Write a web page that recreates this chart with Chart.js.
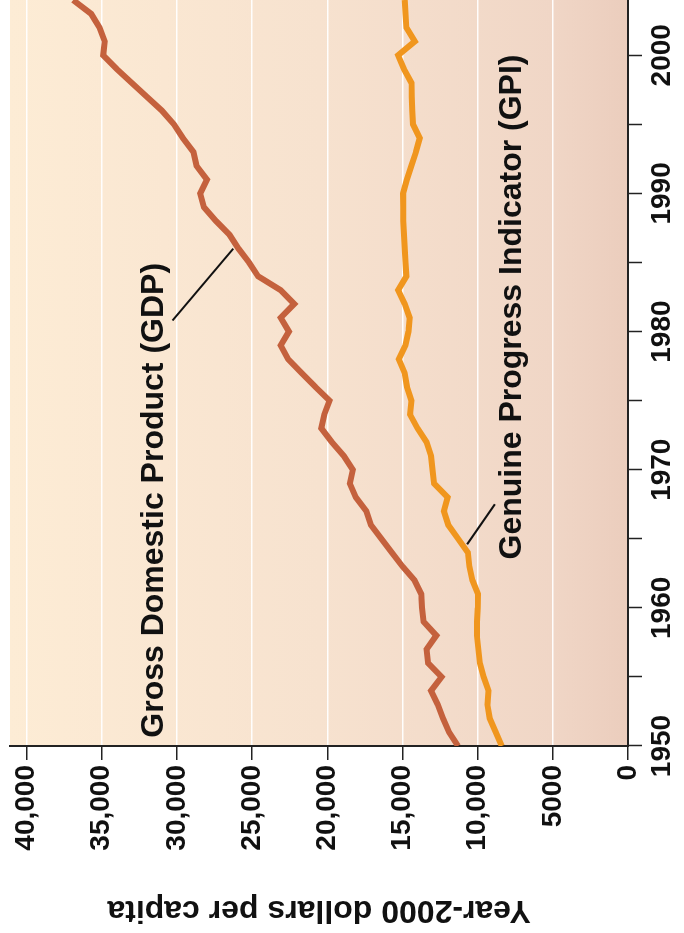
<!DOCTYPE html>
<html>
<head>
<meta charset="utf-8">
<script src="https://cdn.jsdelivr.net/npm/chart.js@4/dist/chart.umd.min.js"></script>
<style>
  html, body { margin: 0; padding: 0; background: #fff; overflow: hidden; }
  body { width: 684px; height: 933px; position: relative; }
  /* chart is drawn landscape, then turned a quarter turn counter-clockwise */
  #wrap {
    position: absolute; left: 0; top: 0;
    width: 933px; height: 684px;
    transform-origin: 0 0;
    transform: translateY(933px) rotate(-90deg);
  }
</style>
</head>
<body>
<div id="wrap"><canvas id="chart" width="933" height="684"></canvas></div>
<script>
// years 1950..2004
const years = [
  1950, 1951, 1952, 1953, 1954, 1955, 1956, 1957, 1958, 1959,
  1960, 1961, 1962, 1963, 1964, 1965, 1966, 1967, 1968, 1969,
  1970, 1971, 1972, 1973, 1974, 1975, 1976, 1977, 1978, 1979,
  1980, 1981, 1982, 1983, 1984, 1985, 1986, 1987, 1988, 1989,
  1990, 1991, 1992, 1993, 1994, 1995, 1996, 1997, 1998, 1999,
  2000, 2001, 2002, 2003, 2004
];

// Gross Domestic Product, year-2000 dollars per capita
const gdp = [
  11300, 11900, 12300, 12650, 13100, 12400, 13300, 13400, 12750, 13600,
  13700, 13750, 14200, 15000, 15700, 16400, 17100, 17400, 18100, 18500,
  18300, 18900, 19700, 20400, 20200, 19850, 20800, 21700, 22600, 23100,
  22550, 23100, 22200, 23100, 24600, 25200, 25900, 26500, 27400, 28200,
  28450, 28000, 28700, 28900, 29600, 30200, 31000, 32000, 33000, 34000,
  34900, 34800, 35150, 35700, 36900
];

// Genuine Progress Indicator, year-2000 dollars per capita
const gpi = [
  8400, 8800, 9200, 9350, 9280, 9600, 9850, 9950, 10050, 10050,
  10000, 9980, 10350, 10550, 10650, 11300, 11950, 12250, 12000, 12900,
  13000, 13100, 13400, 14000, 14500, 14400, 14700, 14850, 15250, 14800,
  14600, 14520, 14850, 15290, 14740, 14800, 14850, 14900, 14950, 14950,
  14960, 14700, 14400, 14100, 13850, 14300, 14350, 14380, 14400, 14900,
  15290, 14180, 14740, 14800, 14850
];

const yearTicks = [1950, 1955, 1960, 1965, 1970, 1975, 1980, 1985, 1990, 1995, 2000];
const dollarTicks = [0, 5000, 10000, 15000, 20000, 25000, 30000, 35000, 40000];
const dollarLabels = ["0", "5000", "10,000", "15,000", "20,000", "25,000", "30,000", "35,000", "40,000"];

// series labels with their leader lines (data coordinates)
const seriesLabels = [
  { text: "Gross Domestic Product (GDP)", at: [1950.6, 31500], from: [1980.8, 30300], to: [1986.0, 26250] },
  { text: "Genuine Progress Indicator (GPI)", at: [1963.5, 7700], from: [1967.5, 8850], to: [1964.6, 10700] }
];

const FONT = "'Liberation Sans', Arial, Helvetica, sans-serif";

const panelBackground = {
  id: "panelBackground",
  beforeDraw(chart) {
    const { ctx, chartArea: a } = chart;
    const g = ctx.createLinearGradient(0, a.top, 0, a.bottom);
    g.addColorStop(0, "#fdecd5");
    g.addColorStop(0.5, "#f7e2cf");
    g.addColorStop(0.88, "#f0d6c6");
    g.addColorStop(1, "#ebcdbd");
    ctx.save();
    ctx.fillStyle = g;
    ctx.fillRect(a.left, a.top, a.right - a.left, a.bottom - a.top);
    ctx.restore();
  }
};

const seriesText = {
  id: "seriesText",
  afterDatasetsDraw(chart) {
    const { ctx, scales: { x, y } } = chart;
    ctx.save();
    seriesLabels.forEach((l) => {
      ctx.strokeStyle = "#111";
      ctx.lineWidth = 2;
      ctx.beginPath();
      ctx.moveTo(x.getPixelForValue(l.from[0]), y.getPixelForValue(l.from[1]));
      ctx.lineTo(x.getPixelForValue(l.to[0]), y.getPixelForValue(l.to[1]));
      ctx.stroke();
      ctx.fillStyle = "#111";
      ctx.font = "bold 32px " + FONT;
      ctx.textAlign = "left";
      ctx.textBaseline = "middle";
      ctx.fillText(l.text, x.getPixelForValue(l.at[0]), y.getPixelForValue(l.at[1]));
    });
    ctx.restore();
  }
};

const ctx = document.getElementById("chart").getContext("2d");
new Chart(ctx, {
  type: "line",
  data: {
    datasets: [
      {
        label: "GDP",
        data: years.map((yr, i) => ({ x: yr, y: gdp[i] })),
        borderColor: "#c4613d",
        borderWidth: 6,
        pointRadius: 0,
        tension: 0
      },
      {
        label: "GPI",
        data: years.map((yr, i) => ({ x: yr, y: gpi[i] })),
        borderColor: "#f0961e",
        borderWidth: 6,
        pointRadius: 0,
        tension: 0
      }
    ]
  },
  options: {
    responsive: false,
    animation: false,
    layout: { padding: { top: 10, right: 0, left: 0, bottom: 0 } },
    plugins: { legend: { display: false }, tooltip: { enabled: false } },
    scales: {
      x: {
        type: "linear",
        min: 1950,
        max: 2004,
        afterBuildTicks: (axis) => { axis.ticks = yearTicks.map((v) => ({ value: v })); },
        afterFit: (axis) => { axis.height = 56; axis.paddingRight = 0; axis.paddingLeft = 0; },
        ticks: {
          autoSkip: false,
          maxRotation: 0,
          padding: 3,
          color: "#111",
          font: { family: FONT, size: 28, weight: "bold" },
          callback: (v) => (v % 10 === 0 ? String(v) : "")
        },
        grid: { drawOnChartArea: false, tickLength: 14, tickColor: "#222", tickWidth: 1.5 },
        border: { color: "#222", width: 2 }
      },
      y: {
        min: 0,
        max: 41100,
        afterBuildTicks: (axis) => { axis.ticks = dollarTicks.map((v) => ({ value: v })); },
        afterFit: (axis) => { axis.width = 187; axis.paddingTop = 0; axis.paddingBottom = 0; },
        ticks: {
          padding: 5,
          color: "#111",
          font: { family: FONT, size: 28, weight: "bold" },
          callback: (v) => dollarLabels[dollarTicks.indexOf(v)]
        },
        grid: {
          color: (c) => (c.tick && c.tick.value === 0 ? "rgba(0,0,0,0)" : "rgba(255,255,255,0.95)"),
          lineWidth: 1.5,
          tickLength: 14,
          tickColor: "#222",
          tickWidth: 1.5
        },
        border: { color: "#222", width: 2 },
        title: {
          display: true,
          text: "Year-2000 dollars per capita",
          color: "#111",
          font: { family: FONT, size: 32, weight: "bold" },
          padding: { top: 4, bottom: 4 }
        }
      }
    }
  },
  plugins: [panelBackground, seriesText]
});
</script>
</body>
</html>
